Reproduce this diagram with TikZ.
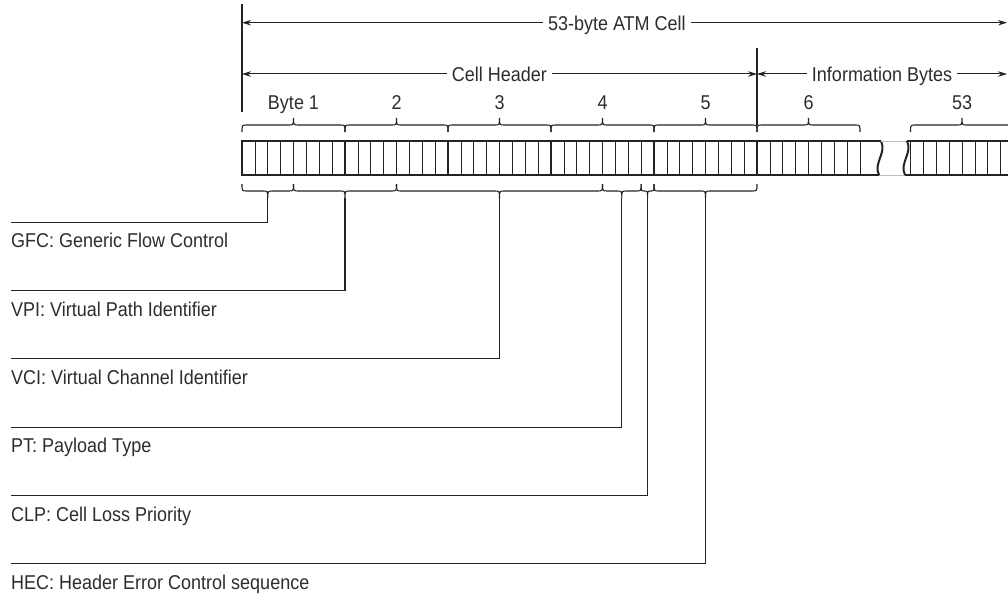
\documentclass[tikz,border=0pt]{standalone}
\usepackage{fontspec}
\setmainfont{Liberation Sans}[FakeStretch=0.9]
\usepackage{tikz}
\usetikzlibrary{arrows.meta,calc}
\definecolor{ink}{RGB}{35,35,35}
\definecolor{textgray}{RGB}{45,45,45}
\definecolor{gapgray}{RGB}{190,190,190}
\tikzset{
  dim-arrow/.style={{Stealth[length=9pt,width=5.5pt]}-{Stealth[length=9pt,width=5.5pt]}, line width=1pt, draw=ink},
  dim-label/.style={fill=white, inner xsep=5pt, inner ysep=1pt, anchor=base, yshift=-7.5pt, text=textgray},
  byte-label/.style={anchor=base, inner sep=0pt, text=textgray},
  field-label/.style={anchor=base west, inner sep=0pt, text=textgray},
  brace-line/.style={draw=ink, line width=1.1pt},
  bit-line/.style={draw=ink, line width=0.7pt},
  byte-line/.style={draw=ink, line width=1.7pt},
  cell-edge/.style={draw=ink, line width=2pt},
  gap-edge/.style={draw=gapgray, line width=0.8pt},
  leader-line/.style={draw=ink, line width=1.1pt}
}
% brace over or under a field: x1, x2, y of the ends, signed half height
\newcommand{\fieldbrace}[4]{%
  \pgfmathsetmacro{\braceR}{min(5,(#2-#1)/4)}%
  \pgfmathsetmacro{\braceM}{(#1+#2)/2}%
  \draw[brace-line] ({#1},{#3}) .. controls ({#1},{#3-(#4)}) .. ({#1+\braceR},{#3-(#4)})
    -- ({\braceM-\braceR},{#3-(#4)}) .. controls ({\braceM},{#3-(#4)}) .. ({\braceM},{#3-2*(#4)})
    .. controls ({\braceM},{#3-(#4)}) .. ({\braceM+\braceR},{#3-(#4)})
    -- ({#2-\braceR},{#3-(#4)}) .. controls ({#2},{#3-(#4)}) .. ({#2},{#3});%
}

\begin{document}
\begin{tikzpicture}[x=1pt, y=-1pt, font=\fontsize{20}{24}\selectfont]
\useasboundingbox (0,0) rectangle (1008,599);
\clip (0,0) rectangle (1008,599);

% dimension arrows
\coordinate (cell-start) at (242,22.7);
\coordinate (cell-end) at (1007,22.7);
\coordinate (hdr-start) at (242,74);
\coordinate (hdr-end) at (757,74);
\coordinate (info-end) at (1007,74);
\draw[ink, line width=1.1pt] (242,4) -- (242,112);
\draw[ink, line width=1.1pt] (757,48) -- (757,125);
\draw[dim-arrow] (cell-start) -- (cell-end) node[dim-label, pos=0.49] (cell) {53-byte ATM Cell};
\draw[dim-arrow] (hdr-start) -- (hdr-end) node[dim-label, midway] (hdr) {Cell Header};
\draw[dim-arrow] (hdr-end) -- (info-end) node[dim-label, midway] (info) {Information Bytes};

% byte braces
\foreach \k/\lab in {1/Byte 1, 2/2, 3/3, 4/4, 5/5, 6/6}{
  \pgfmathsetmacro{\xa}{242+(\k-1)*103}
  \fieldbrace{\xa}{\xa+103}{132}{7}
  \node[byte-label] (byte\k) at ({\xa+51.5},109.5) {\lab};
}
\fieldbrace{910.5}{1013.5}{132}{7}
\node[byte-label] (byte53) at (962,109.5) {53};

% cell: bytes 1 to 6
\foreach \b in {1,...,48}
  \draw[bit-line] ({242+\b*12.875},141) -- ++(0,34);
\foreach \k in {1,...,5}
  \draw[byte-line] ({242+\k*103},141) -- ++(0,34);
\draw[cell-edge] (881,141) -- (242,141) -- (242,175) -- (879,175);
\draw[cell-edge] (881,141) .. controls (887,153) and (873,163) .. (879,175);
% break
\draw[gap-edge] (881,141) -- (907,141);
\draw[gap-edge] (879,175) -- (905,175);
% byte 53
\foreach \b in {0,...,7}
  \draw[bit-line] ({910.5+\b*12.875},141) -- ++(0,34);
\draw[cell-edge] (1015,141) -- (907,141);
\draw[cell-edge] (905,175) -- (1015,175);
\draw[cell-edge] (907,141) .. controls (913,153) and (899,163) .. (905,175);

% header fields
\foreach \from/\to/\name/\row/\desc in {
    0/4/gfc/0/{GFC: Generic Flow Control},
    4/12/vpi/1/{VPI: Virtual Path Identifier},
    12/28/vci/2/{VCI: Virtual Channel Identifier},
    28/31/pt/3/{PT: Payload Type},
    31/32/clp/4/{CLP: Cell Loss Priority},
    32/40/hec/5/{HEC: Header Error Control sequence}}{
  \pgfmathsetmacro{\xa}{242+\from*12.875}
  \pgfmathsetmacro{\xb}{242+\to*12.875}
  \fieldbrace{\xa}{\xb}{184}{-7}
  \coordinate (\name-tip) at ({(\xa+\xb)/2},198);
  \coordinate (\name-end) at (11,{222.3+\row*68.3});
  \node[field-label] (\name) at (11,{247.8+\row*68.3}) {\desc};
  \draw[leader-line] (\name-tip) |- (\name-end);
}
\end{tikzpicture}
\end{document}
